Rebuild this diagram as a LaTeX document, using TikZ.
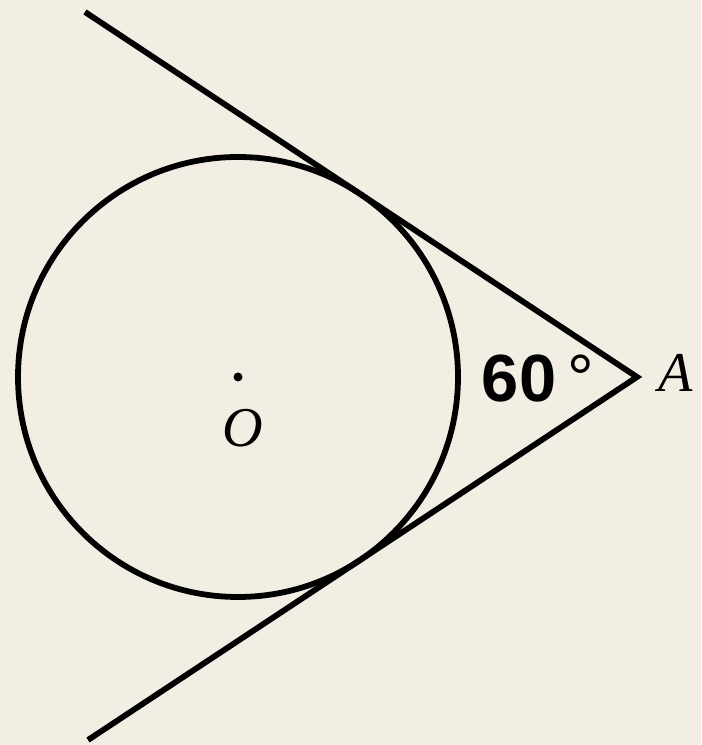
\documentclass[tikz,border=0pt]{standalone}
\usepackage{fontspec}
\setmainfont{Liberation Serif}
\newfontfamily\labelfont{Liberation Sans}
\usetikzlibrary{positioning}
\definecolor{paper}{RGB}{242,238,228}

\begin{document}
\begin{tikzpicture}[
    line width=1.65pt,
    every node/.style={font=\fontsize{16}{18}\selectfont, inner sep=0pt}
]

% Page and background
\useasboundingbox (0,0) rectangle (7.01,7.45);
\fill[paper] (0,0) rectangle (7.01,7.45);

% Points
\coordinate (O) at (2.38,3.68);
\coordinate (A) at (6.37,3.68);
\coordinate (T1) at (0.85,7.33);
\coordinate (T2) at (0.88,0.05);

% Tangent lines from A
\draw[line join=miter] (T1) -- (A) -- (T2);

% Circle and centre
\draw (O) circle (2.2);
\fill (O) circle (0.045);

% Labels
\node (labelO) at (2.43,3.17) {\textit{O}};
\node (labelA) at (6.76,3.72) {\textit{A}};
\node[anchor=base west] (angle) at (4.79,3.43)
    {\labelfont\fontsize{19}{21}\selectfont\bfseries 60\,{\mdseries °}};

\end{tikzpicture}
\end{document}
